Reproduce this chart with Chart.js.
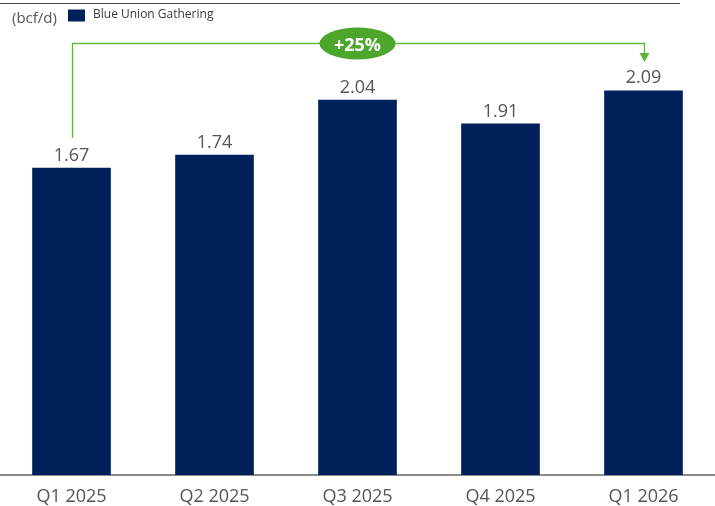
<!DOCTYPE html>
<html>
<head>
<meta charset="utf-8">
<script src="https://cdn.jsdelivr.net/npm/chart.js@4/dist/chart.umd.min.js"></script>
<style>
  html, body { margin: 0; padding: 0; background: #fff; }
  #wrap { width: 715px; height: 506px; position: relative; }
</style>
</head>
<body>
<div id="wrap"><canvas id="chart" width="715" height="506"></canvas></div>
<script>
// Gathering volumes by quarter (bcf/d)
const quarters = ['Q1 2025', 'Q2 2025', 'Q3 2025', 'Q4 2025', 'Q1 2026'];
const volumes = [1.67, 1.74, 2.04, 1.91, 2.09];
const seriesName = 'Blue Union Gathering';
const unitLabel = '(bcf/d)';

const NAVY = '#00205b';
const GREEN_LINE = '#62b33f';
const GREEN_PILL = '#4ca62c';
const TEXT_GRAY = '#555555';
const FONT = '"Open Sans", "Noto Sans", sans-serif';

// Rule at the top, unit label and a hand-drawn legend entry
const headerPlugin = {
  id: 'header',
  beforeDraw(chart) {
    const ctx = chart.ctx;
    ctx.save();
    ctx.strokeStyle = '#4a4a4a';
    ctx.lineWidth = 1;
    ctx.beginPath();
    ctx.moveTo(0, 3.5);
    ctx.lineTo(680, 3.5);
    ctx.stroke();

    ctx.fillStyle = TEXT_GRAY;
    ctx.font = '15px ' + FONT;
    ctx.textBaseline = 'middle';
    ctx.fillText(unitLabel, 12, 19);

    ctx.fillStyle = NAVY;
    ctx.fillRect(68, 9.5, 17, 12);
    ctx.fillStyle = '#3a3a3a';
    ctx.font = '12px ' + FONT;
    ctx.fillText(seriesName, 93, 15);
    ctx.restore();
  }
};

// Value labels above each bar
const valueLabels = {
  id: 'valueLabels',
  afterDatasetsDraw(chart) {
    const ctx = chart.ctx;
    const meta = chart.getDatasetMeta(0);
    ctx.save();
    ctx.fillStyle = TEXT_GRAY;
    ctx.font = '18px ' + FONT;
    ctx.textAlign = 'center';
    ctx.textBaseline = 'alphabetic';
    meta.data.forEach((bar, i) => {
      ctx.fillText(volumes[i].toFixed(2), bar.x, bar.y - 7);
    });
    ctx.restore();
  }
};

// Growth bracket from first to last quarter with the % pill
const growthBracket = {
  id: 'growthBracket',
  afterDraw(chart) {
    const ctx = chart.ctx;
    const meta = chart.getDatasetMeta(0);
    const first = meta.data[0];
    const last = meta.data[meta.data.length - 1];
    const mid = meta.data[Math.floor(meta.data.length / 2)];
    const lineY = 43.5;
    const growth = Math.round((volumes[volumes.length - 1] / volumes[0] - 1) * 100);
    const x0 = Math.round(first.x) + 0.5;
    const x1 = Math.round(last.x) + 0.5;

    ctx.save();
    ctx.strokeStyle = GREEN_LINE;
    ctx.lineWidth = 1.3;
    ctx.beginPath();
    ctx.moveTo(x0, first.y - 30);
    ctx.lineTo(x0, lineY);
    ctx.lineTo(x1, lineY);
    ctx.lineTo(x1, 54);
    ctx.stroke();

    ctx.fillStyle = GREEN_LINE;
    ctx.beginPath();
    ctx.moveTo(x1 - 5, 53);
    ctx.lineTo(x1 + 5, 53);
    ctx.lineTo(x1, 62);
    ctx.closePath();
    ctx.fill();

    ctx.fillStyle = GREEN_PILL;
    ctx.beginPath();
    ctx.ellipse(mid.x, lineY, 38, 16, 0, 0, Math.PI * 2);
    ctx.fill();

    ctx.fillStyle = '#fff';
    ctx.font = 'bold 18px ' + FONT;
    ctx.textAlign = 'center';
    ctx.textBaseline = 'alphabetic';
    ctx.fillText('+' + growth + '%', mid.x, 51);
    ctx.restore();
  }
};

new Chart(document.getElementById('chart'), {
  type: 'bar',
  data: {
    labels: quarters,
    datasets: [{
      label: seriesName,
      data: volumes,
      backgroundColor: NAVY,
      borderWidth: 0,
      barPercentage: 0.55,
      categoryPercentage: 1
    }]
  },
  options: {
    responsive: false,
    animation: false,
    layout: { padding: { top: 15, left: 0, right: -3, bottom: 0 } },
    plugins: {
      legend: { display: false },
      tooltip: { enabled: false }
    },
    scales: {
      x: {
        grid: { display: false, drawTicks: false },
        border: { display: true, color: '#8a8a8a', width: 2 },
        ticks: {
          color: TEXT_GRAY,
          font: { size: 18, family: FONT },
          padding: 11
        },
        afterFit(scale) { scale.height = 31; }
      },
      y: {
        display: false,
        min: 0,
        max: 2.5
      }
    }
  },
  plugins: [headerPlugin, valueLabels, growthBracket]
});
</script>
</body>
</html>
